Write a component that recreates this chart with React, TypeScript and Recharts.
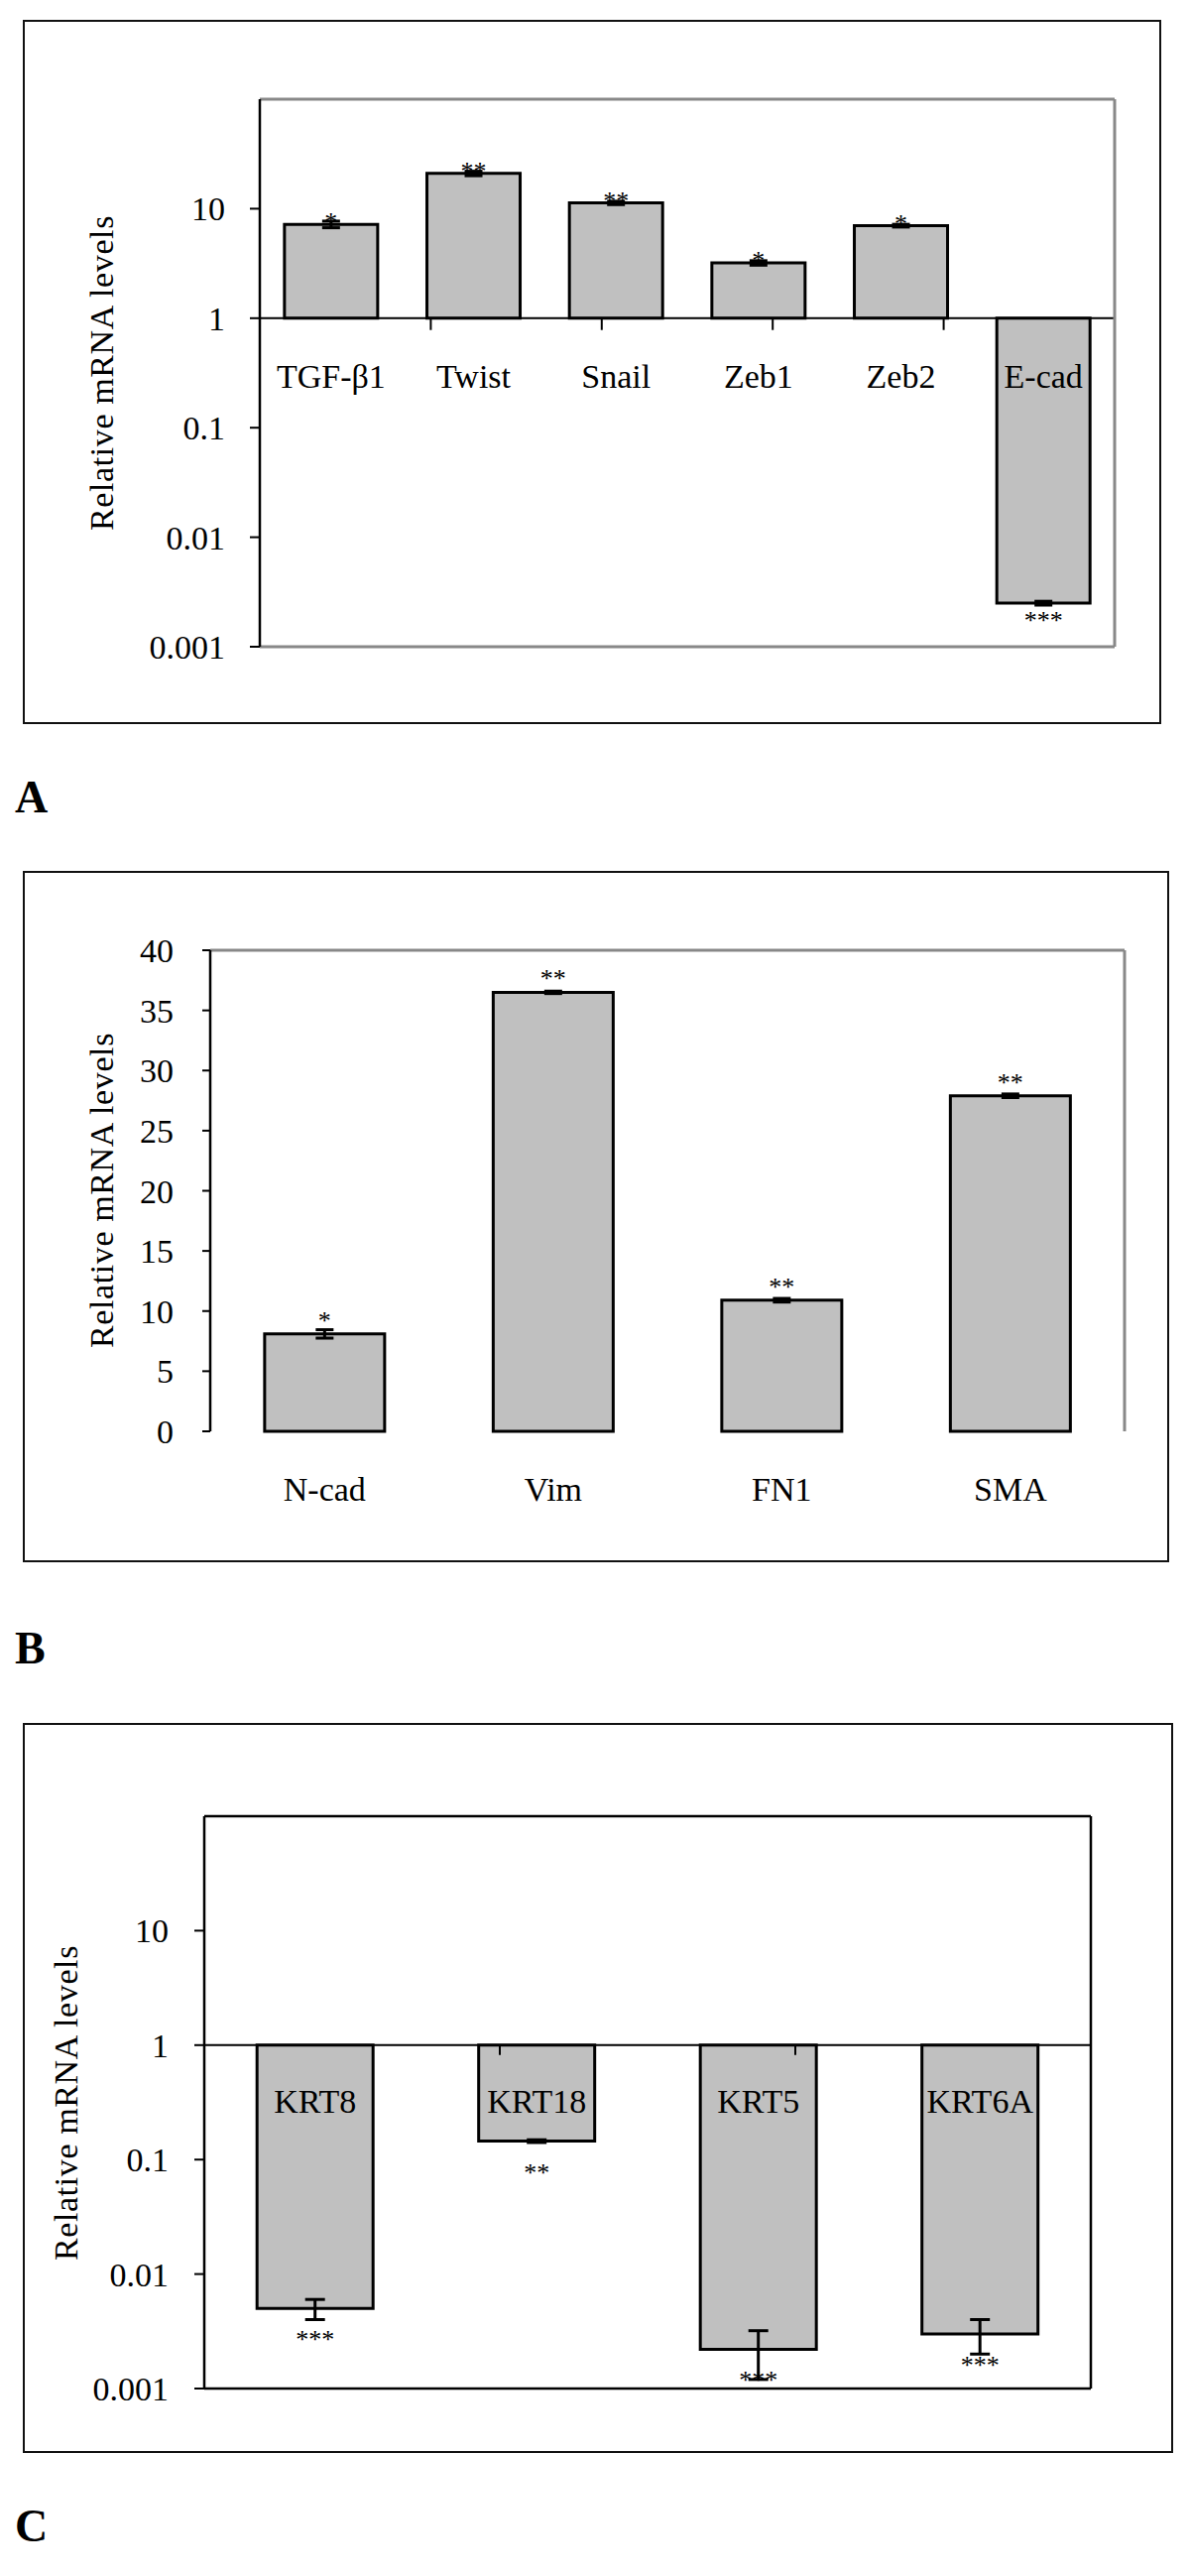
import { BarChart, Bar, XAxis, YAxis, ErrorBar, LabelList, ReferenceLine } from "recharts";

// Panel A: EMT transcription factors (log scale, baseline 1)
const genesA = ["TGF-β1", "Twist", "Snail", "Zeb1", "Zeb2", "E-cad"];
const levelsA = [7.2, 21, 11.3, 3.2, 7, 0.0025];
const errorsA = [0.5, 1.0, 0.4, 0.15, 0.2, 0.0001];
const starsA = ["*", "**", "**", "*", "*", "***"];

// Panel B: mesenchymal markers (linear)
const genesB = ["N-cad", "Vim", "FN1", "SMA"];
const levelsB = [8.1, 36.5, 10.9, 27.9];
const errorsB = [0.35, 0.1, 0.15, 0.15];
const starsB = ["*", "**", "**", "**"];

// Panel C: keratins (log scale, baseline 1)
const genesC = ["KRT8", "KRT18", "KRT5", "KRT6A"];
const levelsC = [0.005, 0.145, 0.0022, 0.003];
const errorsC = [0.001, 0.004, 0.001, 0.001];
const starsC = ["***", "**", "***", "***"];

const logTicks = [0.001, 0.01, 0.1, 1, 10];
const logDomain = [0.001, 100];
const linTicks = [0, 5, 10, 15, 20, 25, 30, 35, 40];
const linDomain = [0, 40];

const FONT = '"Liberation Serif", "Times New Roman", serif';
const GRAY = "#888";
const FILL = "#c0c0c0";

type Row = { name: string; range: [number, number]; err: number; star: string; up: boolean };

const makeRows = (genes: string[], levels: number[], errors: number[], stars: string[], base: number): Row[] =>
  genes.map((name, i) => ({
    name,
    range: [base, levels[i]],
    err: errors[i],
    star: stars[i],
    up: levels[i] >= base,
  }));

const rowsA = makeRows(genesA, levelsA, errorsA, starsA, 1);
const rowsB = makeRows(genesB, levelsB, errorsB, starsB, 0);
const rowsC = makeRows(genesC, levelsC, errorsC, starsC, 1);

const wholeRow = (r: Row) => r;

const barBox = (props: any) => {
  const vb = props.viewBox ?? props;
  const top = Math.min(vb.y, vb.y + vb.height);
  const bottom = Math.max(vb.y, vb.y + vb.height);
  return { cx: vb.x + vb.width / 2, top, bottom };
};

const starLabel = (upGap: number, downGap: number) => (props: any) => {
  const row = props.value as Row;
  const { cx, top, bottom } = barBox(props);
  return (
    <text x={cx} y={row.up ? top + upGap : bottom + downGap} textAnchor="middle" fontSize={26} fontFamily={FONT} fill="#000">
      {row.star}
    </text>
  );
};

// category name placed a fixed distance below the baseline
const nameLabel = (drop: number) => (props: any) => {
  const row = props.value as Row;
  const { cx, top, bottom } = barBox(props);
  const base = row.up ? bottom : top;
  return (
    <text x={cx} y={base + drop} textAnchor="middle" fontSize={34} fontFamily={FONT} fill="#000">
      {row.name}
    </text>
  );
};

const tickStyle = { fontSize: 34, fill: "#000", fontFamily: FONT };
const blank = () => "";

// plot-area border: top/bottom as reference lines, right side as a bare right axis
const frameLines = (domain: number[], color: string, width: number, withBottom: boolean) => [
  <ReferenceLine key="ft" xAxisId="edge" yAxisId="v" y={domain[1]} stroke={color} strokeWidth={width} ifOverflow="visible" />,
  withBottom ? <ReferenceLine key="fb" xAxisId="edge" yAxisId="v" y={domain[0]} stroke={color} strokeWidth={width} ifOverflow="visible" /> : null,
];

const rightFrame = (color: string, width: number) => (
  <YAxis
    yAxisId="frameRight"
    orientation="right"
    type="number"
    domain={[0, 1]}
    ticks={[0, 1]}
    width={1}
    tickSize={0}
    tickFormatter={blank}
    tickLine={{ stroke: "none" }}
    axisLine={{ stroke: color, strokeWidth: width }}
  />
);

const LogPanel = ({ rows, margin, height, gap, frame, tickMargin, tickEnd, nameDrop, starUp, starDown, whisker }: any) => {
  const edges = rows.map((_: Row, i: number) => i + 1);
  return (
    <BarChart width={1200} height={height} data={rows} margin={margin} barCategoryGap={gap}>
      <XAxis xAxisId="cat" dataKey="name" hide />
      <XAxis xAxisId="edge" type="number" domain={[0, rows.length]} allowDataOverflow hide />
      <YAxis
        yAxisId="v"
        type="number"
        scale="log"
        domain={logDomain}
        allowDataOverflow
        ticks={logTicks}
        interval={0}
        width={80}
        tickSize={10}
        tickMargin={tickMargin}
        tick={tickStyle}
        tickLine={{ stroke: "#000", strokeWidth: 2 }}
        axisLine={{ stroke: "#000", strokeWidth: 2.5 }}
        tickFormatter={(v: number) => String(v)}
      />
      {rightFrame(frame.color, frame.width)}
      {frameLines(logDomain, frame.color, frame.width, true)}
      <ReferenceLine xAxisId="cat" yAxisId="v" y={1} stroke="#000" strokeWidth={2} />
      {edges.map((i: number) => (
        <ReferenceLine key={i} xAxisId="edge" yAxisId="v" segment={[{ x: i, y: 1 }, { x: i, y: tickEnd }]} stroke="#000" strokeWidth={2} ifOverflow="visible" />
      ))}
      <Bar xAxisId="cat" yAxisId="v" dataKey="range" fill={FILL} stroke="#000" strokeWidth={3} isAnimationActive={false}>
        <ErrorBar dataKey="err" width={whisker} stroke="#000" strokeWidth={3} />
        <LabelList dataKey={wholeRow} content={nameLabel(nameDrop)} />
        <LabelList dataKey={wholeRow} content={starLabel(starUp, starDown)} />
      </Bar>
    </BarChart>
  );
};

const LinearPanel = () => (
  <BarChart width={1200} height={900} data={rowsB} margin={{ top: 198, right: 65, bottom: 217, left: 132 }} barCategoryGap="23.8%">
    <XAxis xAxisId="cat" dataKey="name" hide />
    <XAxis
      xAxisId="edge"
      type="number"
      domain={[0, genesB.length]}
      allowDataOverflow
      ticks={[0, 1, 2, 3, 4]}
      interval={0}
      height={0}
      tickFormatter={blank}
      tickSize={12}
      tickLine={{ stroke: "#000", strokeWidth: 2 }}
      axisLine={{ stroke: "#000", strokeWidth: 2.5 }}
    />
    <YAxis
      yAxisId="v"
      type="number"
      domain={linDomain}
      ticks={linTicks}
      interval={0}
      width={80}
      tickSize={8}
      tickMargin={29}
      tick={tickStyle}
      tickLine={{ stroke: "#000", strokeWidth: 2 }}
      axisLine={{ stroke: "#000", strokeWidth: 2.5 }}
    />
    {rightFrame(GRAY, 3)}
    {frameLines(linDomain, GRAY, 3, false)}
    <Bar xAxisId="cat" yAxisId="v" dataKey="range" fill={FILL} stroke="#000" strokeWidth={3} isAnimationActive={false}>
      <ErrorBar dataKey="err" width={9} stroke="#000" strokeWidth={3} />
      <LabelList dataKey={wholeRow} content={nameLabel(70)} />
      <LabelList dataKey={wholeRow} content={starLabel(-5, 26)} />
    </Bar>
  </BarChart>
);

const Box = ({ left, top, right, bottom }: any) => (
  <div style={{ position: "absolute", left, top, width: right - left, height: bottom - top, border: "2px solid #111", boxSizing: "border-box" }} />
);

const YTitle = ({ cx, cy }: any) => (
  <div
    style={{
      position: "absolute",
      left: cx,
      top: cy,
      transform: "translate(-50%, -50%) rotate(-90deg)",
      whiteSpace: "nowrap",
      fontSize: 34,
      letterSpacing: 0.6,
      fontFamily: FONT,
      lineHeight: "34px",
    }}
  >
    Relative mRNA levels
  </div>
);

const Letter = ({ top, children }: any) => (
  <div style={{ position: "absolute", left: 15, top, fontSize: 46, fontWeight: "bold", fontFamily: FONT, lineHeight: "46px" }}>{children}</div>
);

export default function App() {
  return (
    <div style={{ position: "absolute", left: 0, top: 0, width: 1200, height: 2597, background: "#fff", fontFamily: FONT }}>
      <Box left={23} top={20} right={1171} bottom={730} />
      <Box left={23} top={878} right={1179} bottom={1575} />
      <Box left={23} top={1737} right={1183} bottom={2473} />

      <div style={{ position: "absolute", left: 0, top: 0 }}>
        <LogPanel
          rows={rowsA}
          height={760}
          margin={{ top: 100, right: 75, bottom: 108, left: 182 }}
          gap="17.3%"
          frame={{ color: GRAY, width: 3 }}
          tickMargin={25}
          tickEnd={0.78}
          nameDrop={70}
          starUp={6}
          starDown={26}
          whisker={9}
        />
      </div>
      <div style={{ position: "absolute", left: 0, top: 760 }}>
        <LinearPanel />
      </div>
      <div style={{ position: "absolute", left: 0, top: 1700 }}>
        <LogPanel
          rows={rowsC}
          height={897}
          margin={{ top: 131, right: 99, bottom: 189, left: 126 }}
          gap="23.8%"
          frame={{ color: "#000", width: 2.5 }}
          tickMargin={26}
          tickEnd={0.82}
          nameDrop={68}
          starUp={-6}
          starDown={40}
          whisker={10}
        />
      </div>

      <YTitle cx={103} cy={376} />
      <YTitle cx={103} cy={1200} />
      <YTitle cx={67} cy={2120} />

      <Letter top={781}>A</Letter>
      <Letter top={1639}>B</Letter>
      <Letter top={2524}>C</Letter>
    </div>
  );
}
